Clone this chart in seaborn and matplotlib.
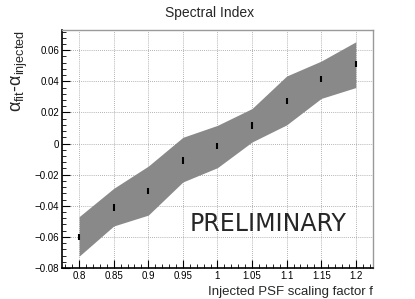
import numpy as np
import seaborn as sns
import matplotlib.pyplot as plt
from matplotlib.ticker import MultipleLocator

# data
scale_f = [0.8, 0.85, 0.9, 0.95, 1.0, 1.05, 1.1, 1.15, 1.2]
band_upper = [-0.047, -0.0288, -0.0145, 0.004, 0.0117, 0.0225, 0.0434, 0.053, 0.0654]
band_lower = [-0.0724, -0.053, -0.046, -0.0247, -0.0155, 0.001, 0.012, 0.029, 0.036]
alpha_diff = [-0.060, -0.041, -0.0305, -0.011, -0.0017, 0.0117, 0.0275, 0.0415, 0.051]
alpha_err = [0.0021] * 9
xlabels = ['0.8', '0.85', '0.9', '0.95', '1', '1.05', '1.1', '1.15', '1.2']
yticks = [-0.08, -0.06, -0.04, -0.02, 0, 0.02, 0.04, 0.06]
ylabels = ['\u22120.08', '\u22120.06', '\u22120.04', '\u22120.02', '0', '0.02', '0.04', '0.06']

sns.set_theme(style='white')
plt.rcParams['font.family'] = ['Liberation Sans', 'DejaVu Sans']
plt.rcParams['mathtext.fontset'] = 'custom'
plt.rcParams['mathtext.rm'] = 'Liberation Sans'
plt.rcParams['mathtext.it'] = 'Liberation Sans'
plt.rcParams['xtick.minor.visible'] = True
plt.rcParams['ytick.minor.visible'] = True

fig = plt.figure(figsize=(4.15, 2.99), dpi=100)
ax = fig.add_axes([0.149, 0.1037, 0.75, 0.796])

ax.fill_between(scale_f, band_lower, band_upper, color='#898989', linewidth=0, zorder=2)
ax.errorbar(scale_f, alpha_diff, yerr=alpha_err, fmt='none', ecolor='black',
            elinewidth=1.5, capsize=0, zorder=3)

ax.set_xlim(0.775, 1.225)
ax.set_ylim(-0.08, 0.073)
ax.set_xticks(scale_f)
ax.set_xticklabels(xlabels)
ax.set_yticks(yticks)
ax.set_yticklabels(ylabels)
ax.xaxis.set_minor_locator(MultipleLocator(0.01))
ax.yaxis.set_minor_locator(MultipleLocator(0.004))

ax.grid(False, which='minor')
ax.grid(True, which='major', linestyle=(0, (1, 1.5)), color='#9a9a9a', linewidth=0.6, zorder=1)
ax.set_axisbelow(True)

ax.tick_params(which='both', direction='in', labelsize=7, colors='black', pad=2,
               top=False, right=False, left=True, bottom=True)
ax.tick_params(which='major', length=6, width=0.8)
ax.tick_params(which='minor', length=3, width=0.6)

for s in ['left', 'bottom']:
    ax.spines[s].set_color('black')
    ax.spines[s].set_linewidth(1.2)
for s in ['top', 'right']:
    ax.spines[s].set_color('#999999')
    ax.spines[s].set_linewidth(1.0)

ax.set_xlabel('Injected PSF scaling factor f', fontsize=9.5, loc='right', labelpad=4)
ax.set_ylabel(r'$\alpha_{\rm fit}$-$\alpha_{\rm injected}$', fontsize=13, loc='top', labelpad=3)
fig.text(0.506, 0.958, 'Spectral Index', ha='center', va='center', fontsize=10)

ax.text(1.073, -0.0515, 'PRELIMINARY', fontsize=17, family='DejaVu Sans', ha='center', va='center')

fig.savefig('out.png', dpi=100)
